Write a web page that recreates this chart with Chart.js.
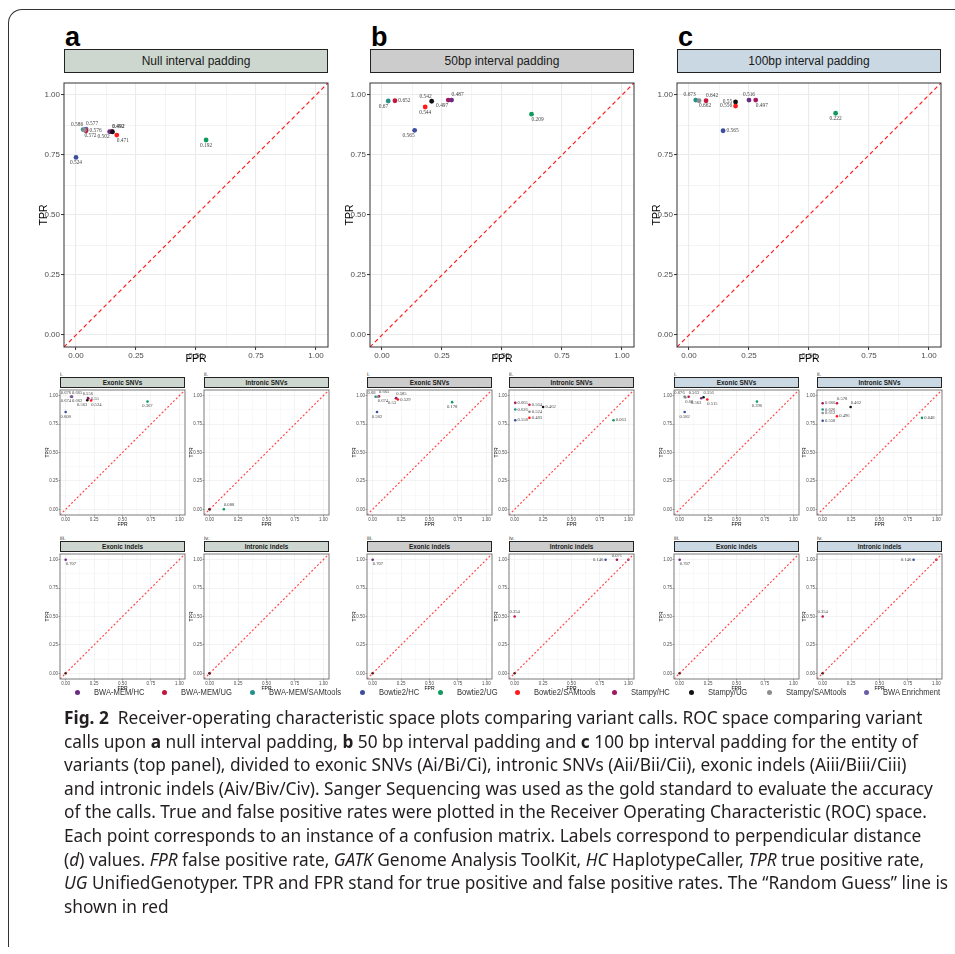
<!DOCTYPE html>
<html>
<head>
<meta charset="utf-8">
<script src="https://cdn.jsdelivr.net/npm/chart.js@4"></script>
<style>
  body { margin: 0; background: #fff; width: 955px; height: 954px; position: relative; overflow: hidden; font-family: "Liberation Sans", Arial, sans-serif; }
  .frame { position: absolute; left: 8px; top: 9px; width: 990px; height: 937px; border-top: 1.3px solid #333; border-left: 1.3px solid #333; border-top-left-radius: 14px; }
  .letter { position: absolute; font-weight: bold; font-size: 27px; line-height: 1; color: #000; }
  .strip { position: absolute; box-sizing: border-box; border: 1px solid #222; display: flex; align-items: center; justify-content: center; color: #1a1a1a; white-space: nowrap; }
  .roman { position: absolute; font-size: 6px; color: #333; line-height: 1; }
  canvas { position: absolute; }
  .ldot { position: absolute; top: 690px; width: 5px; height: 5px; border-radius: 50%; }
  .ltxt { position: absolute; top: 686px; font-size: 9.5px; line-height: 12px; color: #333; white-space: nowrap; transform: scaleX(0.8); transform-origin: left center; }
  .caption { position: absolute; left: 64px; top: 706px; font-family: "Noto Sans", sans-serif; font-size: 17.3px; line-height: 23.6px; color: #231f20; white-space: nowrap; }
</style>
</head>
<body>
<div class="frame"></div>
<div id="fig"></div>
<div class="caption">
  <div><b>Fig. 2</b>&nbsp; Receiver-operating characteristic space plots comparing variant calls. ROC space comparing variant</div>
  <div>calls upon <b>a</b> null interval padding, <b>b</b> 50 bp interval padding and <b>c</b> 100 bp interval padding for the entity of</div>
  <div>variants (top panel), divided to exonic SNVs (Ai/Bi/Ci), intronic SNVs (Aii/Bii/Cii), exonic indels (Aiii/Biii/Ciii)</div>
  <div>and intronic indels (Aiv/Biv/Civ). Sanger Sequencing was used as the gold standard to evaluate the accuracy</div>
  <div>of the calls. True and false positive rates were plotted in the Receiver Operating Characteristic (ROC) space.</div>
  <div>Each point corresponds to an instance of a confusion matrix. Labels correspond to perpendicular distance</div>
  <div>(<i>d</i>) values. <i>FPR</i> false positive rate, <i>GATK</i> Genome Analysis ToolKit, <i>HC</i> HaplotypeCaller, <i>TPR</i> true positive rate,</div>
  <div><i>UG</i> UnifiedGenotyper. TPR and FPR stand for true positive and false positive rates. The “Random Guess” line is</div>
  <div>shown in red</div>
</div>
<script>
// pipelines
const seriesNames = ['BWA-MEM/HC', 'BWA-MEM/UG', 'BWA-MEM/SAMtools', 'Bowtie2/HC', 'Bowtie2/UG',
  'Bowtie2/SAMtools', 'Stampy/HC', 'Stampy/UG', 'Stampy/SAMtools', 'BWA Enrichment'];
const seriesColors = ['#6a2c82', '#c4163f', '#23908c', '#3d4ea0', '#109a5c',
  '#fe1a1a', '#a2175f', '#111111', '#8d8d8d', '#6b5ba8'];

// axes
const axisRange = [-0.05, 1.05];
const tickValues = [0, 0.25, 0.5, 0.75, 1];
const tickLabels = ['0.00', '0.25', '0.50', '0.75', '1.00'];
const gridValues = [0, 0.125, 0.25, 0.375, 0.5, 0.625, 0.75, 0.875, 1];

// a: null interval padding, all variants
const nullAllSeries = ['Bowtie2/HC', 'BWA-MEM/SAMtools', 'BWA Enrichment', 'BWA-MEM/UG', 'Stampy/SAMtools', 'BWA-MEM/HC', 'Stampy/HC', 'Stampy/UG', 'Bowtie2/SAMtools', 'Bowtie2/UG'];
const nullAllFpr = [0.0, 0.03, 0.042, 0.042, 0.035, 0.14, 0.15, 0.152, 0.17, 0.542];
const nullAllTpr = [0.74, 0.856, 0.858, 0.851, 0.854, 0.847, 0.848, 0.846, 0.833, 0.8125];
const nullAllD = ['0.524', '0.586', '0.577', '0.576', '0.572', '0.502', '0.492', '0.492', '0.471', '0.192'];
const nullAllPos = ['b', 'tl', 'tr', 'r', 'br', 'bl', 'tr', 'tr', 'br', 'b'];

// a.i exonic SNVs
const nullExSnvSeries = ['BWA-MEM/SAMtools', 'Stampy/SAMtools', 'BWA-MEM/UG', 'BWA Enrichment', 'BWA-MEM/HC', 'Stampy/HC', 'Stampy/UG', 'Bowtie2/SAMtools', 'Bowtie2/HC', 'Bowtie2/UG'];
const nullExSnvFpr = [0.047, 0.047, 0.055, 0.055, 0.195, 0.2, 0.19, 0.224, 0.0, 0.72];
const nullExSnvTpr = [0.991, 0.99, 0.99, 0.99, 0.98, 0.975, 0.96, 0.957, 0.856, 0.948];
const nullExSnvD = ['0.676', '0.674', '0.665', '0.662', '0.556', '0.55', '0.563', '0.524', '0.608', '0.367'];
const nullExSnvPos = ['tl', 'bl', 'tr', 'br', 't', 'r', 'bl', 'br', 'b', 'b'];

// a.ii intronic SNVs
const nullInSnvSeries = ['Stampy/HC', 'Stampy/UG', 'Bowtie2/UG'];
const nullInSnvFpr = [0.0, 0.0, 0.125];
const nullInSnvTpr = [0.0, 0.0, 0.0];
const nullInSnvD = ['', '', '0.088'];
const nullInSnvPos = ['', '', 'tr'];

// a.iii exonic indels
const nullExIndelSeries = ['BWA-MEM/HC', 'Stampy/UG'];
const nullExIndelFpr = [0.0, 0.0];
const nullExIndelTpr = [1.0, 0.0];
const nullExIndelD = ['0.707', ''];
const nullExIndelPos = ['br', ''];

// a.iv intronic indels
const nullInIndelSeries = ['Stampy/HC', 'Stampy/UG'];
const nullInIndelFpr = [0.0, 0.0];
const nullInIndelTpr = [0.0, 0.0];
const nullInIndelD = ['', ''];
const nullInIndelPos = ['', ''];

// b: 50bp interval padding, all variants
const p50AllSeries = ['BWA-MEM/SAMtools', 'BWA-MEM/UG', 'Bowtie2/HC', 'Bowtie2/SAMtools', 'Stampy/UG', 'Stampy/HC', 'BWA-MEM/HC', 'Bowtie2/UG'];
const p50AllFpr = [0.026, 0.054, 0.136, 0.18, 0.207, 0.276, 0.29, 0.623];
const p50AllTpr = [0.975, 0.976, 0.853, 0.95, 0.974, 0.979, 0.979, 0.92];
const p50AllD = ['0.67', '0.652', '0.565', '0.544', '0.542', '0.497', '0.487', '0.209'];
const p50AllPos = ['bl', 'r', 'bl', 'b', 'tl', 'bl', 'tr', 'br'];

// b.i exonic SNVs
const p50ExSnvSeries = ['BWA-MEM/SAMtools', 'BWA-MEM/UG', 'Stampy/SAMtools', 'BWA-MEM/HC', 'Stampy/HC', 'Bowtie2/SAMtools', 'Bowtie2/HC', 'Bowtie2/UG'];
const p50ExSnvFpr = [0.026, 0.056, 0.045, 0.207, 0.205, 0.222, 0.038, 0.699];
const p50ExSnvTpr = [0.991, 0.994, 0.99, 0.98, 0.978, 0.966, 0.856, 0.943];
const p50ExSnvD = ['0.68', '0.665', '0.674', '0.585', '0.53', '0.529', '0.582', '0.178'];
const p50ExSnvPos = ['tl', 'tr', 'br', 'tr', 'bl', 'r', 'b', 'b'];

// b.ii intronic SNVs
const p50InSnvSeries = ['Stampy/HC', 'BWA-MEM/SAMtools', 'Bowtie2/HC', 'BWA-MEM/UG', 'Stampy/SAMtools', 'Bowtie2/SAMtools', 'Stampy/UG', 'Bowtie2/UG'];
const p50InSnvFpr = [0.005, 0.005, 0.005, 0.13, 0.13, 0.13, 0.25, 0.87];
const p50InSnvTpr = [0.937, 0.879, 0.784, 0.92, 0.859, 0.805, 0.9, 0.784];
const p50InSnvD = ['0.665', '0.626', '0.558', '0.564', '0.524', '0.483', '0.462', '0.063'];
const p50InSnvPos = ['r', 'r', 'r', 'r', 'r', 'r', 'r', 'r'];

// b.iii exonic indels
const p50ExIndelSeries = ['BWA-MEM/HC', 'Stampy/UG'];
const p50ExIndelFpr = [0.0, 0.0];
const p50ExIndelTpr = [1.0, 0.0];
const p50ExIndelD = ['0.707', ''];
const p50ExIndelPos = ['br', ''];

// b.iv intronic indels
const p50InIndelSeries = ['Stampy/UG', 'BWA-MEM/UG', 'Bowtie2/HC', 'Stampy/HC', 'BWA-MEM/HC'];
const p50InIndelFpr = [0.0, 0.0, 0.8, 0.9, 1.0];
const p50InIndelTpr = [0.0, 0.5, 1.0, 1.0, 1.0];
const p50InIndelD = ['', '0.354', '0.146', '0.071', ''];
const p50InIndelPos = ['', 't', 'l', 't', ''];

// c: 100bp interval padding, all variants
const p100AllSeries = ['BWA-MEM/SAMtools', 'Stampy/SAMtools', 'BWA-MEM/UG', 'Bowtie2/HC', 'Stampy/UG', 'Bowtie2/SAMtools', 'BWA-MEM/HC', 'Stampy/HC', 'Bowtie2/UG'];
const p100AllFpr = [0.028, 0.042, 0.071, 0.142, 0.194, 0.194, 0.25, 0.278, 0.611];
const p100AllTpr = [0.979, 0.976, 0.976, 0.851, 0.971, 0.954, 0.979, 0.979, 0.924];
const p100AllD = ['0.673', '0.662', '0.642', '0.565', '0.55', '0.556', '0.516', '0.497', '0.222'];
const p100AllPos = ['tl', 'br', 'tr', 'r', 'l', 'l', 't', 'br', 'b'];

// c.i exonic SNVs
const p100ExSnvSeries = ['BWA-MEM/SAMtools', 'Stampy/SAMtools', 'BWA-MEM/UG', 'Stampy/UG', 'BWA-MEM/HC', 'Bowtie2/SAMtools', 'Bowtie2/HC', 'Bowtie2/UG'];
const p100ExSnvFpr = [0.044, 0.05, 0.079, 0.21, 0.19, 0.243, 0.044, 0.68];
const p100ExSnvTpr = [0.991, 0.985, 0.991, 0.986, 0.977, 0.966, 0.856, 0.948];
const p100ExSnvD = ['0.676', '0.68', '0.563', '0.556', '0.563', '0.515', '0.582', '0.396'];
const p100ExSnvPos = ['tl', 'br', 'tr', 'tr', 'bl', 'br', 'b', 'b'];

// c.ii intronic SNVs
const p100InSnvSeries = ['Stampy/HC', 'BWA-MEM/UG', 'BWA-MEM/SAMtools', 'Stampy/SAMtools', 'Bowtie2/HC', 'Bowtie2/SAMtools', 'Stampy/UG', 'Bowtie2/UG'];
const p100InSnvFpr = [0.0, 0.126, 0.0, 0.0, 0.0, 0.126, 0.246, 0.874];
const p100InSnvTpr = [0.934, 0.934, 0.879, 0.848, 0.779, 0.819, 0.9, 0.805];
const p100InSnvD = ['0.666', '0.578', '0.626', '0.612', '0.558', '0.496', '0.462', '0.048'];
const p100InSnvPos = ['r', 'tr', 'r', 'r', 'r', 'r', 'tr', 'r'];

// c.iii exonic indels
const p100ExIndelSeries = ['BWA-MEM/HC', 'Stampy/UG'];
const p100ExIndelFpr = [0.0, 0.0];
const p100ExIndelTpr = [1.0, 0.0];
const p100ExIndelD = ['0.707', ''];
const p100ExIndelPos = ['br', ''];

// c.iv intronic indels
const p100InIndelSeries = ['Stampy/UG', 'BWA-MEM/UG', 'Bowtie2/HC', 'Stampy/HC'];
const p100InIndelFpr = [0.0, 0.0, 0.8, 1.0];
const p100InIndelTpr = [0.0, 0.5, 1.0, 1.0];
const p100InIndelD = ['', '0.354', '0.146', ''];
const p100InIndelPos = ['', 't', 'l', ''];

// layout
const columns = [
  { letter: 'a', title: 'Null interval padding', strip: '#cdd7cf', top: 64, small: [60, 204] },
  { letter: 'b', title: '50bp interval padding', strip: '#cccccc', top: 370, small: [367, 509] },
  { letter: 'c', title: '100bp interval padding', strip: '#c9d8e3', top: 677, small: [674, 817] }
];
const smallRows = [390, 554];
const legendX = [75, 162, 250, 360, 438, 515, 612, 689, 767, 864];

const panels = [
  [nullAllSeries, nullAllFpr, nullAllTpr, nullAllD, nullAllPos],
  [nullExSnvSeries, nullExSnvFpr, nullExSnvTpr, nullExSnvD, nullExSnvPos],
  [nullInSnvSeries, nullInSnvFpr, nullInSnvTpr, nullInSnvD, nullInSnvPos],
  [nullExIndelSeries, nullExIndelFpr, nullExIndelTpr, nullExIndelD, nullExIndelPos],
  [nullInIndelSeries, nullInIndelFpr, nullInIndelTpr, nullInIndelD, nullInIndelPos],
  [p50AllSeries, p50AllFpr, p50AllTpr, p50AllD, p50AllPos],
  [p50ExSnvSeries, p50ExSnvFpr, p50ExSnvTpr, p50ExSnvD, p50ExSnvPos],
  [p50InSnvSeries, p50InSnvFpr, p50InSnvTpr, p50InSnvD, p50InSnvPos],
  [p50ExIndelSeries, p50ExIndelFpr, p50ExIndelTpr, p50ExIndelD, p50ExIndelPos],
  [p50InIndelSeries, p50InIndelFpr, p50InIndelTpr, p50InIndelD, p50InIndelPos],
  [p100AllSeries, p100AllFpr, p100AllTpr, p100AllD, p100AllPos],
  [p100ExSnvSeries, p100ExSnvFpr, p100ExSnvTpr, p100ExSnvD, p100ExSnvPos],
  [p100InSnvSeries, p100InSnvFpr, p100InSnvTpr, p100InSnvD, p100InSnvPos],
  [p100ExIndelSeries, p100ExIndelFpr, p100ExIndelTpr, p100ExIndelD, p100ExIndelPos],
  [p100InIndelSeries, p100InIndelFpr, p100InIndelTpr, p100InIndelD, p100InIndelPos]
];
const smallTitles = ['Exonic SNVs', 'Intronic SNVs', 'Exonic indels', 'Intronic indels'];
const romans = ['i.', 'ii.', 'iii.', 'iv.'];

const fig = document.getElementById('fig');
function addEl(cls, css, html) {
  const el = document.createElement('div');
  el.className = cls;
  Object.assign(el.style, css);
  el.innerHTML = html;
  fig.appendChild(el);
  return el;
}

// labels of d values next to the points, plus the panel frame
const dLabelPlugin = {
  id: 'dlabels',
  afterDatasetsDraw(chart) {
    const ds = chart.data.datasets[1];
    const meta = chart.getDatasetMeta(1);
    const ctx = chart.ctx;
    const fs = ds.labelSize;
    ctx.save();
    ctx.font = fs + 'px "Liberation Serif", serif';
    ctx.fillStyle = '#444';
    ctx.textBaseline = 'middle';
    meta.data.forEach((pt, i) => {
      const t = ds.dLabels[i];
      if (!t) return;
      const pos = ds.dPos[i];
      const r = ds.pointRadius + 1;
      let x = pt.x, y = pt.y;
      ctx.textAlign = 'center';
      const vert = pos.includes('t') || pos.includes('b');
      if (pos.includes('l')) { ctx.textAlign = 'right'; x -= vert ? 0 : r; }
      if (pos.includes('r')) { ctx.textAlign = 'left'; x += vert ? 0 : r; }
      if (pos.includes('t')) y -= fs * 0.95;
      if (pos.includes('b')) y += fs * 0.95;
      ctx.fillText(t, x, y);
    });
    ctx.restore();
  },
  afterDraw(chart) {
    const a = chart.chartArea;
    const ctx = chart.ctx;
    ctx.save();
    ctx.strokeStyle = chart.options.plugins.dlabels.frame;
    ctx.lineWidth = 1;
    ctx.strokeRect(a.left, a.top, a.right - a.left, a.bottom - a.top);
    ctx.restore();
  }
};

function rocChart(box, data, big) {
  const [series, fpr, tpr, d, pos] = data;
  const wy = big ? 26 : 15, hx = big ? 18 : 13, padT = 6, padR = 12;
  const cv = document.createElement('canvas');
  cv.width = wy + box.w + padR;
  cv.height = padT + box.h + hx;
  cv.style.left = (box.x - wy) + 'px';
  cv.style.top = (box.y - padT) + 'px';
  fig.appendChild(cv);

  const axis = (title, isX) => ({
    type: 'linear',
    min: axisRange[0],
    max: axisRange[1],
    afterBuildTicks: a => { a.ticks = gridValues.map(v => ({ value: v })); },
    afterFit: a => { if (isX) a.height = hx; else a.width = wy; },
    ticks: {
      autoSkip: false, maxRotation: 0, padding: big ? 1 : 0.5,
      color: '#4d4d4d',
      font: { size: big ? 8 : 4.5, family: 'Liberation Sans' },
      callback: v => { const i = tickValues.indexOf(v); return i < 0 ? '' : tickLabels[i]; }
    },
    grid: {
      color: '#ebebeb',
      lineWidth: c => tickValues.includes(c.tick.value) ? (big ? 1.1 : 0.6) : (big ? 0.55 : 0.3),
      tickLength: big ? 3 : 1.5,
      tickColor: c => tickValues.includes(c.tick.value) ? '#333' : 'rgba(0,0,0,0)',
      tickWidth: big ? 1 : 0.5
    },
    border: { display: false },
    title: { display: true, text: title, color: '#000', padding: 0, font: { size: big ? 10.5 : 5, family: 'Liberation Sans' } }
  });

  return new Chart(cv, {
    data: {
      datasets: [
        {
          type: 'line',
          data: [{ x: axisRange[0], y: axisRange[0] }, { x: axisRange[1], y: axisRange[1] }],
          borderColor: big ? '#ff1f1f' : '#ff4a4a',
          borderWidth: big ? 1.2 : 1.2,
          borderDash: big ? [4, 3] : [2, 2],
          pointRadius: 0
        },
        {
          type: 'scatter',
          data: fpr.map((x, i) => ({ x, y: tpr[i] })),
          backgroundColor: series.map(s => seriesColors[seriesNames.indexOf(s)]),
          borderWidth: 0,
          pointRadius: big ? 2.4 : 1.3,
          pointHoverRadius: big ? 2.4 : 1.3,
          dLabels: d,
          dPos: pos,
          labelSize: big ? 5.4 : 4.6
        }
      ]
    },
    options: {
      responsive: false,
      animation: false,
      devicePixelRatio: 1,
      layout: { padding: { top: padT, right: padR, left: 0, bottom: 0 } },
      plugins: {
        legend: { display: false },
        tooltip: { enabled: false },
        dlabels: { frame: big ? '#333' : '#7a7a7a' }
      },
      scales: { x: axis('FPR', true), y: axis('TPR', false) }
    },
    plugins: [dLabelPlugin]
  });
}

columns.forEach((col, ci) => {
  addEl('letter', { left: (col.top + 1) + 'px', top: '24px' }, col.letter);
  addEl('strip', { left: col.top + 'px', top: '49px', width: '264px', height: '24px', background: col.strip, fontSize: '12px' }, col.title);
  rocChart({ x: col.top, y: 83, w: 264, h: 264 }, panels[ci * 5], true);
  for (let k = 0; k < 4; k++) {
    const x = col.small[k % 2];
    const y = smallRows[Math.floor(k / 2)];
    addEl('roman', { left: x + 'px', top: (y - 19) + 'px' }, romans[k]);
    addEl('strip', { left: x + 'px', top: (y - 13) + 'px', width: '125px', height: '11px', background: col.strip, fontSize: '6.4px', fontWeight: 'bold' }, smallTitles[k]);
    rocChart({ x, y, w: 125, h: 125 }, panels[ci * 5 + 1 + k], false);
  }
});

// shared legend
seriesNames.forEach((name, i) => {
  addEl('ldot', { left: legendX[i] + 'px', background: seriesColors[i] }, '');
  addEl('ltxt', { left: (legendX[i] + 19) + 'px' }, name);
});
</script>
</body>
</html>
